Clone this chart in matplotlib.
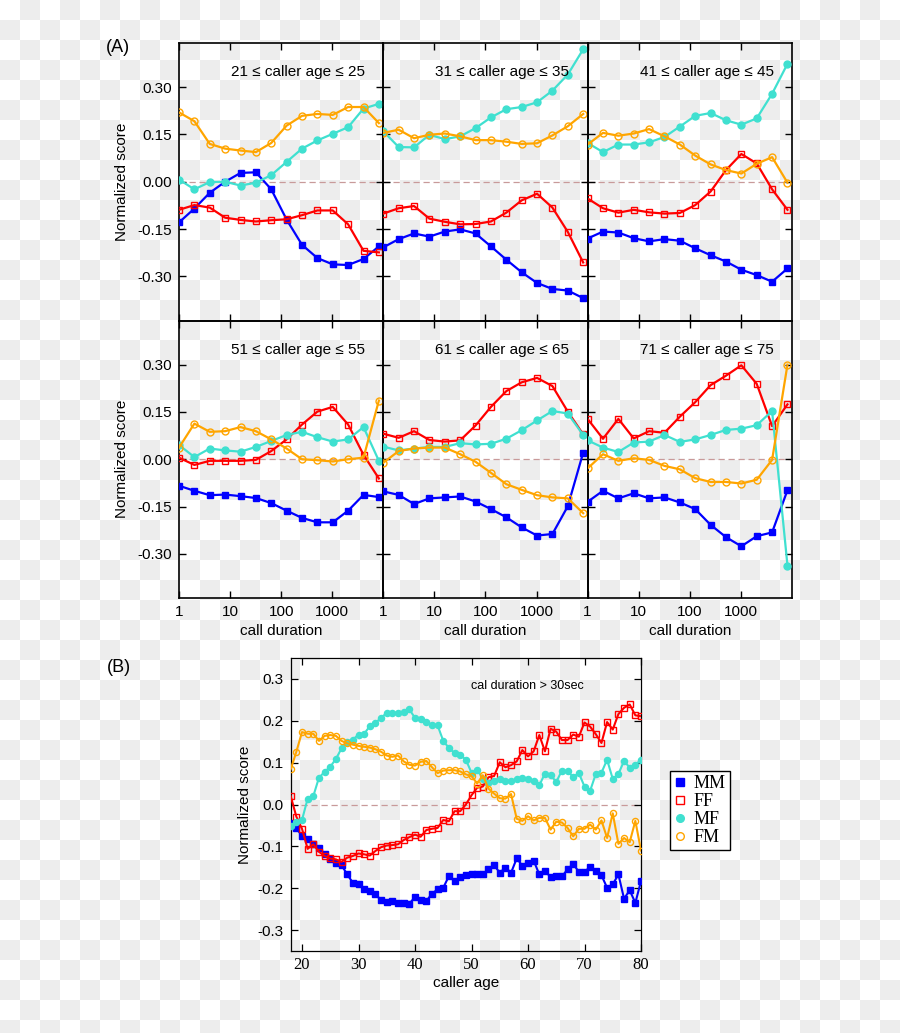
import numpy as np
import matplotlib
matplotlib.use("Agg")
import matplotlib.pyplot as plt
from matplotlib.lines import Line2D

plt.rcParams['font.family'] = ['Liberation Sans', 'DejaVu Sans']
plt.rcParams['axes.unicode_minus'] = False

# ---- panel A data: call duration (log2 bins) ----
durations = [1, 2, 4, 8, 16, 32, 64, 128, 256, 512, 1024, 2048, 4096, 8192]
age_groups = [(21, 25), (31, 35), (41, 45), (51, 55), (61, 65), (71, 75)]

mm_A = [
    [-0.129, -0.085, -0.035, 0.0, 0.028, 0.030, -0.024, -0.120, -0.200, -0.242, -0.262, -0.264, -0.245, -0.205],
    [-0.208, -0.182, -0.164, -0.174, -0.158, -0.151, -0.164, -0.205, -0.247, -0.287, -0.321, -0.340, -0.345, -0.369],
    [-0.180, -0.158, -0.161, -0.179, -0.189, -0.182, -0.187, -0.211, -0.233, -0.253, -0.279, -0.296, -0.317, -0.275],
    [-0.084, -0.100, -0.114, -0.112, -0.117, -0.123, -0.139, -0.163, -0.186, -0.200, -0.200, -0.163, -0.113, -0.120],
    [-0.102, -0.113, -0.142, -0.124, -0.121, -0.118, -0.134, -0.158, -0.184, -0.216, -0.242, -0.237, -0.149, 0.021],
    [-0.135, -0.100, -0.124, -0.108, -0.124, -0.121, -0.137, -0.158, -0.208, -0.247, -0.276, -0.244, -0.232, -0.098],
]
ff_A = [
    [-0.089, -0.074, -0.082, -0.114, -0.121, -0.126, -0.122, -0.119, -0.106, -0.091, -0.091, -0.135, -0.219, -0.224],
    [-0.101, -0.084, -0.077, -0.117, -0.127, -0.135, -0.134, -0.126, -0.098, -0.059, -0.038, -0.082, -0.159, -0.256],
    [-0.053, -0.084, -0.098, -0.089, -0.097, -0.101, -0.099, -0.074, -0.031, 0.037, 0.088, 0.058, -0.024, -0.089],
    [0.005, -0.018, -0.005, -0.005, -0.005, -0.002, 0.026, 0.063, 0.110, 0.151, 0.166, 0.110, 0.014, -0.061],
    [0.081, 0.068, 0.089, 0.061, 0.056, 0.060, 0.107, 0.166, 0.216, 0.244, 0.258, 0.232, 0.151, 0.079],
    [0.128, 0.065, 0.128, 0.066, 0.089, 0.084, 0.135, 0.181, 0.235, 0.265, 0.298, 0.239, 0.105, 0.174],
]
mf_A = [
    [0.007, -0.024, -0.001, 0.0, -0.012, -0.003, 0.021, 0.063, 0.105, 0.131, 0.152, 0.173, 0.232, 0.247],
    [0.160, 0.110, 0.109, 0.149, 0.135, 0.144, 0.170, 0.204, 0.230, 0.237, 0.252, 0.289, 0.340, 0.420],
    [0.123, 0.094, 0.118, 0.118, 0.125, 0.142, 0.175, 0.209, 0.218, 0.195, 0.181, 0.201, 0.279, 0.374],
    [0.045, 0.007, 0.034, 0.028, 0.024, 0.039, 0.058, 0.077, 0.087, 0.070, 0.056, 0.063, 0.102, -0.005],
    [0.040, 0.028, 0.034, 0.039, 0.039, 0.051, 0.047, 0.049, 0.065, 0.092, 0.123, 0.153, 0.145, 0.077],
    [0.060, 0.037, 0.023, 0.053, 0.056, 0.077, 0.055, 0.063, 0.077, 0.093, 0.097, 0.108, 0.153, -0.337],
]
fm_A = [
    [0.220, 0.192, 0.120, 0.105, 0.099, 0.094, 0.123, 0.178, 0.209, 0.215, 0.212, 0.237, 0.237, 0.186],
    [0.155, 0.165, 0.138, 0.149, 0.153, 0.144, 0.132, 0.132, 0.127, 0.120, 0.122, 0.147, 0.176, 0.215],
    [0.118, 0.155, 0.146, 0.153, 0.167, 0.144, 0.118, 0.083, 0.055, 0.037, 0.026, 0.057, 0.078, -0.003],
    [0.037, 0.113, 0.087, 0.089, 0.102, 0.089, 0.063, 0.034, 0.000, -0.003, -0.007, 0.000, 0.005, 0.186],
    [-0.011, 0.026, 0.034, 0.037, 0.037, 0.016, -0.008, -0.043, -0.079, -0.097, -0.114, -0.121, -0.124, -0.171],
    [-0.029, 0.016, -0.005, 0.003, -0.002, -0.021, -0.032, -0.060, -0.072, -0.072, -0.077, -0.065, -0.002, 0.300],
]

# ---- panel B data: caller age, call duration > 30 sec ----
ages = np.arange(18, 81)
mm_B = [-0.045, -0.056, -0.076, -0.082, -0.095, -0.103, -0.118, -0.130, -0.139, -0.145,
        -0.167, -0.187, -0.191, -0.203, -0.207, -0.215, -0.228, -0.232, -0.231, -0.235,
        -0.236, -0.237, -0.221, -0.227, -0.231, -0.213, -0.203, -0.199, -0.171, -0.183,
        -0.173, -0.169, -0.167, -0.165, -0.167, -0.155, -0.145, -0.163, -0.151, -0.163,
        -0.129, -0.146, -0.139, -0.134, -0.167, -0.159, -0.173, -0.171, -0.172, -0.155,
        -0.142, -0.161, -0.161, -0.149, -0.159, -0.169, -0.199, -0.191, -0.167, -0.225,
        -0.205, -0.235, -0.183]
ff_B = [0.020, -0.029, -0.058, -0.106, -0.095, -0.113, -0.123, -0.129, -0.131, -0.137,
        -0.127, -0.123, -0.117, -0.119, -0.122, -0.111, -0.102, -0.098, -0.097, -0.095,
        -0.085, -0.078, -0.072, -0.077, -0.061, -0.058, -0.056, -0.037, -0.040, -0.016,
        -0.016, 0.000, 0.022, 0.040, 0.043, 0.065, 0.068, 0.101, 0.089, 0.094,
        0.103, 0.130, 0.115, 0.127, 0.166, 0.127, 0.181, 0.174, 0.154, 0.154,
        0.167, 0.162, 0.196, 0.186, 0.168, 0.147, 0.197, 0.179, 0.216, 0.231,
        0.239, 0.213, 0.211]
mf_B = [-0.052, -0.042, -0.037, 0.014, 0.020, 0.064, 0.078, 0.090, 0.109, 0.134,
        0.150, 0.155, 0.167, 0.169, 0.187, 0.195, 0.207, 0.219, 0.219, 0.219,
        0.220, 0.227, 0.207, 0.204, 0.196, 0.191, 0.189, 0.152, 0.135, 0.123,
        0.119, 0.107, 0.076, 0.083, 0.062, 0.052, 0.057, 0.060, 0.057, 0.057,
        0.060, 0.063, 0.061, 0.055, 0.046, 0.074, 0.070, 0.054, 0.081, 0.079,
        0.066, 0.075, 0.043, 0.033, 0.073, 0.076, 0.107, 0.061, 0.073, 0.104,
        0.088, 0.095, 0.107]
fm_B = [0.084, 0.126, 0.173, 0.169, 0.169, 0.152, 0.164, 0.166, 0.164, 0.152,
        0.146, 0.143, 0.140, 0.138, 0.136, 0.132, 0.126, 0.117, 0.114, 0.117,
        0.103, 0.095, 0.093, 0.102, 0.104, 0.089, 0.075, 0.081, 0.082, 0.082,
        0.079, 0.072, 0.068, 0.050, 0.070, 0.038, 0.026, 0.015, 0.014, 0.025,
        -0.034, -0.039, -0.028, -0.038, -0.032, -0.032, -0.060, -0.041, -0.043, -0.056,
        -0.076, -0.058, -0.058, -0.048, -0.060, -0.038, -0.080, -0.021, -0.094, -0.080,
        -0.090, -0.039, -0.110]

series_names = ['MM', 'FF', 'MF', 'FM']
colors = ['#0000ff', '#ff0000', '#40e0d0', '#ffa500']
markers = ['s', 's', 'o', 'o']
filled = [True, False, True, False]

W, H = 900, 1033
fig = plt.figure(figsize=(W / 100, H / 100), dpi=100)

# transparent-png style checkerboard background
yy, xx = np.mgrid[0:H, 0:W]
checker = np.where(((yy // 20) + (xx // 20)) % 2 == 1, 0.933, 1.0)
fig.figimage(np.dstack([checker] * 3), xo=0, yo=0, zorder=-5, origin='upper')


def draw_series(ax, x, ys, ms, lw):
    for y, c, m, f in zip(ys, colors, markers, filled):
        ax.plot(x, y, color=c, lw=lw, marker=m, ms=ms,
                mfc=c if f else 'none', mec=c, mew=1.0, zorder=3)


# ---- panel A grid ----
left, top = 179 / W, 1 - 43 / H
cw, rh = 204.3 / W, 277.5 / H
for i, (lo, hi) in enumerate(age_groups):
    r, c = divmod(i, 3)
    ax = fig.add_axes([left + c * cw, top - (r + 1) * rh, cw, rh])
    ax.set_facecolor('none')
    ax.set_xscale('log')
    ax.set_xlim(1, 1e4)
    ax.set_ylim(-0.44, 0.44)
    ax.axhline(0, color='#c89a9a', lw=0.9, ls=(0, (5, 3)), zorder=1)
    draw_series(ax, durations, [mm_A[i], ff_A[i], mf_A[i], fm_A[i]], 5, 1.6)
    ax.text(0.91, 0.895, f'{lo} \u2264 caller age \u2264 {hi}', transform=ax.transAxes,
            ha='right', va='center', fontsize=11)
    ax.set_xticks([1, 10, 100, 1000])
    ax.set_xticklabels(['1', '10', '100', '1000'])
    ax.xaxis.set_minor_locator(matplotlib.ticker.NullLocator())
    ax.set_yticks([-0.30, -0.15, 0.0, 0.15, 0.30])
    ax.set_yticklabels(['-0.30', '-0.15', '0.00', '0.15', '0.30'])
    ax.tick_params(direction='in', top=True, right=True, length=5, width=1,
                   labelsize=11, pad=5)
    for s in ax.spines.values():
        s.set_linewidth(1.2)
    if r == 0:
        ax.tick_params(labelbottom=False)
    else:
        ax.set_xlabel('call duration', fontsize=11)
        ax.xaxis.set_label_coords(0.5, -0.094)
    if c == 0:
        ax.set_ylabel('Normalized score', fontsize=11)
        ax.yaxis.set_label_coords(-0.245, 0.5)
    else:
        ax.tick_params(labelleft=False)

fig.text(118 / W, 1 - 47 / H, '(A)', fontsize=13, ha='center', va='center')
fig.text(119 / W, 1 - 668 / H, '(B)', fontsize=13, ha='center', va='center')

# ---- panel B ----
axb = fig.add_axes([290.7 / W, 1 - 951 / H, 350.3 / W, 293 / H])
axb.set_facecolor('none')
axb.set_xlim(18, 80)
axb.set_ylim(-0.35, 0.35)
axb.axhline(0, color='#c89a9a', lw=0.9, ls=(0, (5, 3)), zorder=1)
draw_series(axb, ages, [mm_B, ff_B, mf_B, fm_B], 4.4, 1.5)
axb.text(0.675, 0.905, 'cal duration > 30sec', transform=axb.transAxes,
         ha='center', va='center', fontsize=9)
axb.set_xticks([20, 30, 40, 50, 60, 70, 80])
axb.set_xticklabels(['20', '30', '40', '50', '60', '70', '80'],
                    family=['Liberation Serif', 'DejaVu Serif'], fontsize=12)
axb.set_yticks([-0.3, -0.2, -0.1, 0.0, 0.1, 0.2, 0.3])
axb.set_yticklabels(['-0.3', '-0.2', '-0.1', '0.0', '0.1', '0.2', '0.3'])
axb.tick_params(direction='in', top=True, right=True, length=5, width=0.9,
                labelsize=11, pad=5)
axb.tick_params(axis='x', labelsize=12, pad=4)
for s in axb.spines.values():
    s.set_linewidth(0.9)
axb.set_xlabel('caller age', fontsize=11)
axb.xaxis.set_label_coords(0.5, -0.085)
axb.set_ylabel('Normalized score', fontsize=11)
axb.yaxis.set_label_coords(-0.11, 0.5)

handles = [Line2D([], [], ls='none', marker=m, color=c, mfc=c if f else 'none',
                  mec=c, mew=1.0, ms=5.5)
           for c, m, f in zip(colors, markers, filled)]
leg = fig.legend(handles, series_names, loc='center', bbox_to_anchor=(700 / W, 1 - 810.5 / H),
                 prop={'family': ['Liberation Serif', 'DejaVu Serif'], 'size': 13},
                 frameon=True, fancybox=False, edgecolor='black', framealpha=1,
                 handlelength=0.7, handletextpad=0.4, labelspacing=0.05,
                 borderpad=0.25, borderaxespad=0)
leg.get_frame().set_linewidth(1.0)
leg.get_frame().set_facecolor('white')

fig.savefig('out.png', dpi=100)
